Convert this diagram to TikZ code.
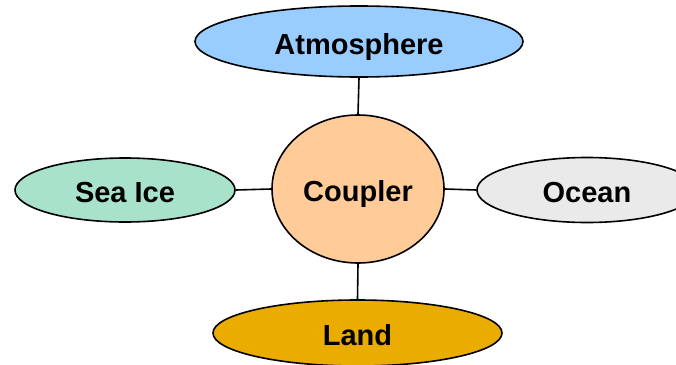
\documentclass[tikz,border=0pt]{standalone}
\usepackage{fontspec}
\setmainfont{Liberation Sans}
\usetikzlibrary{shapes.geometric}
\definecolor{atmcol}{HTML}{99CCFF}
\definecolor{icecol}{HTML}{A8E2CB}
\definecolor{oceancol}{HTML}{EAEAEA}
\definecolor{coupcol}{HTML}{FFCC99}
\definecolor{landcol}{HTML}{EBAC00}
\tikzset{
  comp/.style={ellipse, draw=black, line width=1.6pt, inner sep=0pt,
    font=\fontsize{29}{32}\selectfont\bfseries, text height=25pt, text depth=0pt},
  link/.style={draw=black, line width=1.6pt}
}
\begin{document}
\begin{tikzpicture}[x=1pt,y=-1pt]
\useasboundingbox (0,0) rectangle (676,364);
\clip (0,0) rectangle (676,364);
\fill[white] (0,0) rectangle (676,364);
\node[comp, fill=atmcol, minimum width=328pt, minimum height=71pt] (atm) at (359,41.5) {Atmosphere};
\node[comp, fill=coupcol, minimum width=172pt, minimum height=148pt] (coup) at (358,189) {Coupler};
\node[comp, fill=icecol, minimum width=220pt, minimum height=64pt] (ice) at (125,190) {Sea Ice};
\node[comp, fill=oceancol, minimum width=220pt, minimum height=65pt] (ocean) at (587,190) {Ocean};
\node[comp, fill=landcol, minimum width=289pt, minimum height=66pt] (land) at (357.5,333) {Land};
\draw[link] (atm.south) -- (coup.north);
\draw[link] (coup.south) -- (land.north);
\draw[link] (ice.east) -- (coup.west);
\draw[link] (coup.east) -- (ocean.west);
\end{tikzpicture}
\end{document}
